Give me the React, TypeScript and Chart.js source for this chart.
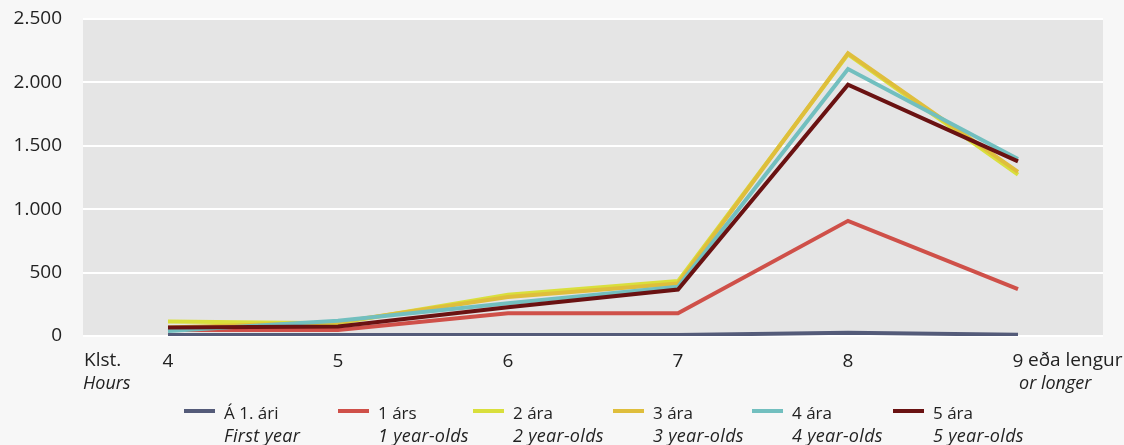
import React, { useEffect, useRef } from "react";
import { Chart, registerables } from "chart.js";

Chart.register(...registerables);

// ---- Data ----
const categories = ["4", "5", "6", "7", "8", "9"];
const seriesNames = ["Á 1. ári", "1 árs", "2 ára", "3 ára", "4 ára", "5 ára"];
const seriesNamesEn = ["First year", "1 year-olds", "2 year-olds", "3 year-olds", "4 year-olds", "5 year-olds"];
const seriesColors = ["#545b79", "#cf5049", "#d9df3c", "#dfbe3c", "#72bfbf", "#6a1212"];

const firstYear = [8, 8, 8, 8, 26, 10];
const age1 = [48, 48, 179, 179, 908, 369];
const age2 = [114, 100, 326, 433, 2222, 1272];
const age3 = [68, 108, 307, 414, 2230, 1295];
const age4 = [40, 120, 259, 388, 2106, 1396];
const age5 = [67, 75, 227, 366, 1982, 1377];
const seriesValues = [firstYear, age1, age2, age3, age4, age5];

const yMin = 0;
const yMax = 2500;
const yStep = 500;
const xAxisLabel = ["Klst.", "Hours"];
const lastCategoryExtra = ["eða lengur", "or longer"];

// ---- Styling / layout ----
const FONT = '"Open Sans", sans-serif';
const TEXT = "#222222";
const legendItemWidths = [154, 135, 140, 139, 141, 140];

function formatThousands(v: number): string {
  return String(Math.round(v)).replace(/\B(?=(\d{3})+(?!\d))/g, ".");
}

const bgPlugin = {
  id: "plotBg",
  beforeDraw(chart: any) {
    const { ctx, chartArea } = chart;
    ctx.save();
    ctx.fillStyle = "#f7f7f7";
    ctx.fillRect(0, 0, chart.width, chart.height);
    ctx.fillStyle = "#e5e5e5";
    ctx.fillRect(chartArea.left, chartArea.top, chartArea.right - chartArea.left, chartArea.bottom - chartArea.top);
    ctx.restore();
  },
};

const extraLabelsPlugin = {
  id: "extraLabels",
  afterDraw(chart: any) {
    const { ctx, chartArea } = chart;
    const xs = chart.scales.x;
    const y1 = chartArea.bottom + 25;
    const y2 = y1 + 23;
    ctx.save();
    ctx.fillStyle = TEXT;
    ctx.textBaseline = "middle";
    ctx.textAlign = "left";
    ctx.font = `19px ${FONT}`;
    ctx.fillText(xAxisLabel[0], chartArea.left + 1, y1);
    const lastX = xs.getPixelForValue(categories.length - 1);
    ctx.fillText(lastCategoryExtra[0], lastX + 10, y1);
    ctx.font = `italic 18px ${FONT}`;
    ctx.fillText(xAxisLabel[1], chartArea.left, y2);
    ctx.fillText(lastCategoryExtra[1], lastX + 1, y2);
    ctx.restore();
  },
};

export default function App() {
  const canvasRef = useRef<HTMLCanvasElement | null>(null);

  useEffect(() => {
    if (!canvasRef.current) return;
    const chart = new Chart(canvasRef.current, {
      type: "line",
      data: {
        labels: categories,
        datasets: seriesNames.map((name, i) => ({
          label: name,
          data: seriesValues[i],
          borderColor: seriesColors[i],
          backgroundColor: seriesColors[i],
          borderWidth: 4,
          pointRadius: 0,
          pointHoverRadius: 0,
          tension: 0,
          fill: false,
          order: seriesNames.length - 1 - i,
          borderJoinStyle: "miter" as const,
        })),
      },
      options: {
        responsive: false,
        animation: false,
        layout: { padding: { top: 19, right: 21, bottom: 0, left: 0 } },
        plugins: {
          legend: { display: false },
          tooltip: { enabled: false },
          title: { display: false },
        },
        scales: {
          x: {
            offset: true,
            grid: { display: false, drawTicks: false },
            border: { display: false },
            ticks: {
              color: TEXT,
              font: { family: FONT, size: 19 },
              padding: 14,
              maxRotation: 0,
            },
            afterFit(scale: any) {
              scale.height = 109;
            },
          },
          y: {
            min: yMin,
            max: yMax,
            grid: {
              color: "#ffffff",
              lineWidth: 2,
              drawTicks: true,
              tickLength: 21,
              tickColor: "rgba(0,0,0,0)",
            },
            border: { display: false },
            ticks: {
              stepSize: yStep,
              color: TEXT,
              font: { family: FONT, size: 19 },
              padding: 0,
              callback: (v: any) => formatThousands(Number(v)),
            },
            afterFit(scale: any) {
              scale.width = 83;
            },
          },
        },
      },
      plugins: [bgPlugin, extraLabelsPlugin],
    });
    return () => chart.destroy();
  }, []);

  return (
    <div
      style={{
        position: "fixed",
        left: 0,
        top: 0,
        width: 1124,
        height: 445,
        background: "#f7f7f7",
        overflow: "hidden",
      }}
    >
      <canvas ref={canvasRef} width={1124} height={445} style={{ display: "block" }} />
      <div
        style={{
          position: "absolute",
          left: 184,
          top: 402,
          display: "flex",
          fontFamily: FONT,
          fontSize: 17,
          lineHeight: "22px",
          color: TEXT,
        }}
      >
        {seriesNames.map((n, i) => (
          <div key={n} style={{ width: legendItemWidths[i], display: "flex", alignItems: "flex-start" }}>
            <div
              style={{
                width: 31,
                height: 4,
                background: seriesColors[i],
                marginTop: 7,
                marginRight: 9,
                flex: "none",
              }}
            />
            <div style={{ whiteSpace: "nowrap" }}>
              <div>{n}</div>
              <div style={{ fontStyle: "italic", fontSize: 18, letterSpacing: 0.3 }}>{seriesNamesEn[i]}</div>
            </div>
          </div>
        ))}
      </div>
    </div>
  );
}
